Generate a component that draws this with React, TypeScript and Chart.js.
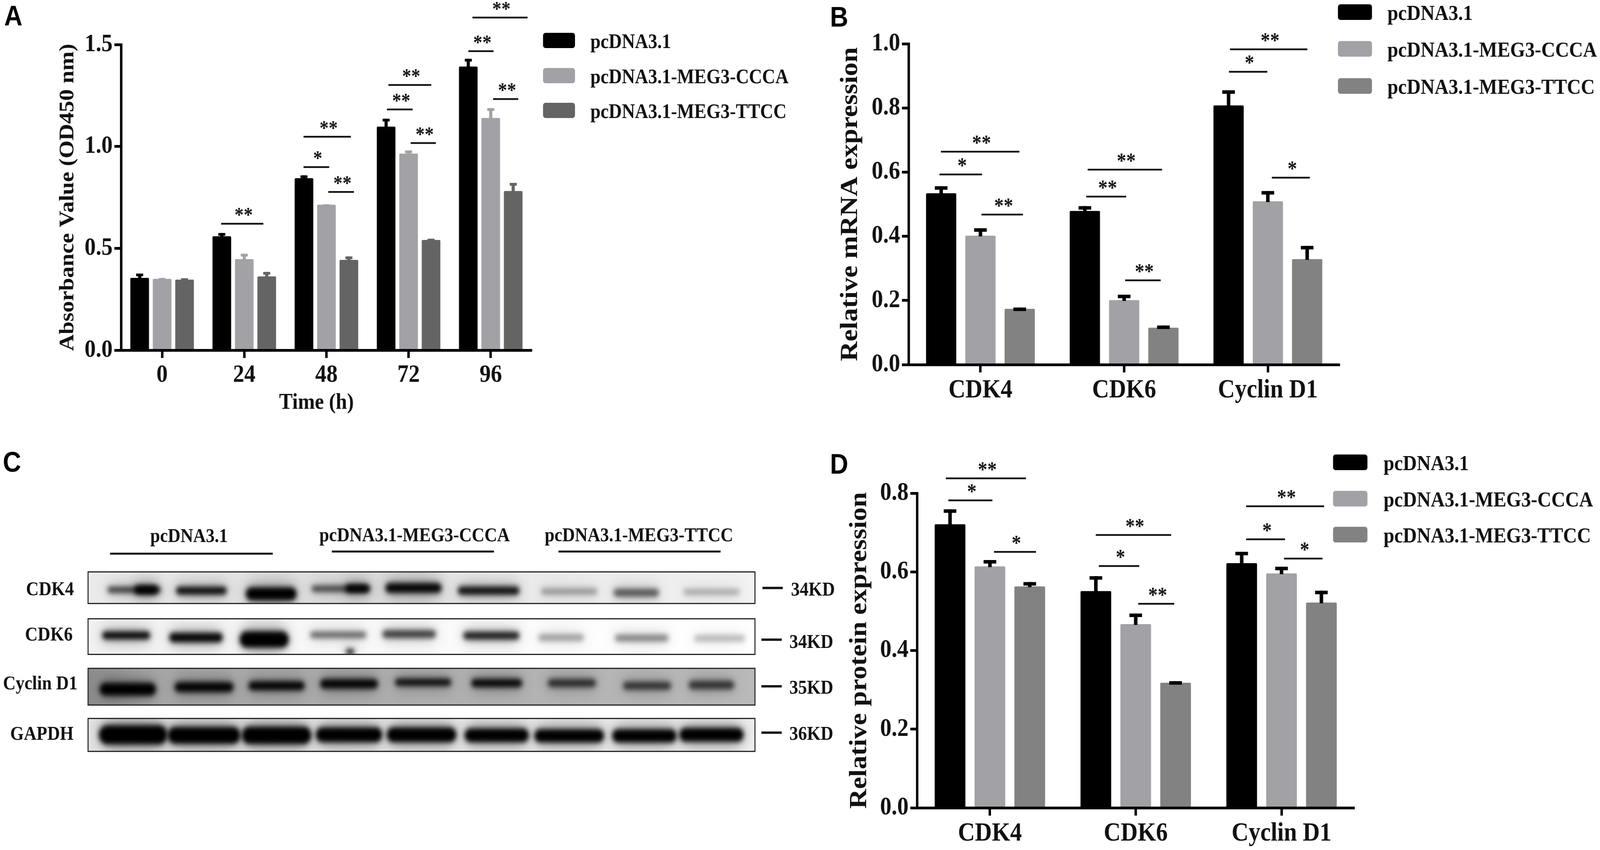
import { useEffect, useRef } from "react"
import { Chart, registerables } from "chart.js"

Chart.register(...registerables)

const SERIF = '"Liberation Serif", "Times New Roman", serif'
const SANS = '"Liberation Sans", Arial, sans-serif'

// the layout is measured on the reference; the page is fitted to the real window
const PAGE_W = 4561
const PAGE_H = 2175

const seriesNames = ["pcDNA3.1", "pcDNA3.1-MEG3-CCCA", "pcDNA3.1-MEG3-TTCC"]

// Panel A
const timeLabels = ["0", "24", "48", "72", "96"]
const absorbanceControl = [0.355, 0.559, 0.844, 1.097, 1.392]
const absorbanceCCCA = [0.35, 0.447, 0.714, 0.965, 1.14]
const absorbanceTTCC = [0.346, 0.362, 0.443, 0.541, 0.781]
const absorbanceControlTop = [0.376, 0.575, 0.858, 1.136, 1.43]
const absorbanceCCCATop = [0.354, 0.473, 0.716, 0.98, 1.188]
const absorbanceTTCCTop = [0.353, 0.384, 0.46, 0.547, 0.821]
// x1, x2 in category units, y in axis units, stars
const absorbanceBrackets: [number, number, number, string][] = [
  [0.718, 1.232, 0.621, "**"],
  [1.721, 2.298, 1.048, "**"],
  [1.721, 2.034, 0.899, "*"],
  [2.022, 2.335, 0.777, "**"],
  [2.755, 3.276, 1.302, "**"],
  [2.737, 3.05, 1.182, "**"],
  [3.025, 3.332, 1.017, "**"],
  [3.777, 4.448, 1.633, "**"],
  [3.727, 4.034, 1.468, "**"],
  [4.028, 4.335, 1.233, "**"],
]

// Panel B
const geneLabels = ["CDK4", "CDK6", "Cyclin D1"]
const mrnaControl = [0.534, 0.479, 0.808]
const mrnaCCCA = [0.402, 0.201, 0.509]
const mrnaTTCC = [0.174, 0.115, 0.329]
const mrnaControlTop = [0.556, 0.494, 0.855]
const mrnaCCCATop = [0.425, 0.218, 0.541]
const mrnaTTCCTop = [0.178, 0.122, 0.37]
const mrnaBrackets: [number, number, number, string][] = [
  [-0.275, 0.271, 0.664, "**"],
  [-0.285, 0.011, 0.593, "*"],
  [0.007, 0.296, 0.468, "**"],
  [0.746, 1.264, 0.608, "**"],
  [0.736, 1.014, 0.524, "**"],
  [1.007, 1.254, 0.263, "**"],
  [1.736, 2.275, 0.983, "**"],
  [1.729, 1.996, 0.913, "*"],
  [2.028, 2.292, 0.583, "*"],
]

// Panel D
const proteinControl = [0.721, 0.551, 0.622]
const proteinCCCA = [0.614, 0.467, 0.596]
const proteinTTCC = [0.563, 0.318, 0.522]
const proteinControlTop = [0.759, 0.589, 0.651]
const proteinCCCATop = [0.63, 0.494, 0.613]
const proteinTTCCTop = [0.574, 0.322, 0.552]
const proteinBrackets: [number, number, number, string][] = [
  [-0.302, 0.247, 0.838, "**"],
  [-0.285, 0.017, 0.782, "*"],
  [0.028, 0.316, 0.651, "*"],
  [0.726, 1.243, 0.694, "**"],
  [0.747, 1.024, 0.615, "*"],
  [1.017, 1.264, 0.519, "**"],
  [1.757, 2.292, 0.767, "**"],
  [1.757, 2.024, 0.683, "*"],
  [2.017, 2.281, 0.634, "*"],
]

// Panel C, the blot. Coordinates are in a 1568x1568 grid over the panel box.
const blotRowNames = ["CDK4", "CDK6", "Cyclin D1", "GAPDH"]
const blotSizes = ["34KD", "34KD", "35KD", "36KD"]
const blotRows = [
  [530, 648],
  [705, 838],
  [890, 1027],
  [1077, 1200],
]
// x, width, y, height, darkness
const blotBands = [
  [
    [250, 100, 597, 24, 0.7], [272, 44, 597, 34, 1], [375, 95, 600, 30, 0.92], [505, 95, 612, 50, 1],
    [635, 110, 593, 24, 0.65], [665, 44, 592, 30, 1], [770, 105, 590, 38, 0.97], [910, 115, 600, 32, 0.9],
    [1060, 105, 603, 24, 0.32], [1185, 85, 608, 30, 0.58], [1325, 105, 605, 22, 0.27],
  ],
  [
    [235, 90, 767, 30, 0.95], [365, 100, 775, 36, 0.97], [492, 92, 782, 62, 1], [630, 105, 765, 24, 0.55],
    [762, 100, 762, 30, 0.7], [915, 105, 768, 30, 0.85], [1045, 85, 775, 26, 0.33], [1195, 100, 777, 26, 0.43],
    [1340, 95, 778, 24, 0.25], [652, 16, 828, 20, 0.95],
  ],
  [
    [238, 105, 968, 48, 1], [380, 110, 960, 38, 0.97], [515, 105, 955, 34, 0.97], [650, 108, 948, 36, 0.97],
    [788, 105, 942, 28, 0.9], [925, 95, 945, 32, 0.94], [1065, 90, 945, 30, 0.72], [1205, 90, 955, 30, 0.68],
    [1325, 85, 952, 32, 0.68],
  ],
  [
    [248, 128, 1138, 72, 1], [380, 136, 1140, 64, 1], [515, 130, 1140, 66, 1], [650, 124, 1138, 56, 1],
    [785, 130, 1138, 56, 1], [925, 120, 1140, 52, 1], [1060, 130, 1142, 50, 1], [1200, 120, 1142, 50, 1],
    [1325, 120, 1138, 52, 1],
  ],
]

interface Box { x: number; y: number; w: number; h: number }

interface BarPanelProps {
  box: Box
  area: { left: number; right: number; top: number; bottom: number }
  labels: string[]
  values: number[][]
  tops: number[][]
  brackets: [number, number, number, string][]
  colors: string[]
  capColors: string[]
  capWidth: number
  stemWidth: number
  capHeight: number
  yMax: number
  yStep: number
  yTitle: string
  yTitleSize: number
  yTitleX: number
  yTickSize: number
  xTickSize: number
  xTickPad: number
  barPercentage: number
  legend: { x: number; y: number[]; w: number; h: number; textX: number; size: number }
  starSize: number
  note?: { text: string; x: number; y: number; size: number }
}

function BarPanel(props: BarPanelProps) {
  const ref = useRef<HTMLCanvasElement>(null)
  const { box, area } = props

  useEffect(() => {
    if (!ref.current) return
    const left = area.left - box.x
    const right = area.right - box.x
    const top = area.top - box.y
    const bottom = area.bottom - box.y

    const marks = {
      id: "marks",
      afterDatasetsDraw(chart: Chart) {
        const ctx = chart.ctx
        const xs = chart.scales.x
        const ys = chart.scales.y
        ctx.save()
        // error bars, one side only
        chart.data.datasets.forEach((ds: any, i: number) => {
          const meta = chart.getDatasetMeta(i)
          ctx.fillStyle = props.capColors[i]
          meta.data.forEach((bar: any, j: number) => {
            const yTop = ys.getPixelForValue(props.tops[i][j])
            const yBar = ys.getPixelForValue(ds.data[j])
            ctx.fillRect(bar.x - props.stemWidth / 2, yTop, props.stemWidth, yBar - yTop + 2)
            ctx.fillRect(bar.x - props.capWidth / 2, yTop, props.capWidth, props.capHeight)
          })
        })
        // significance brackets
        ctx.fillStyle = "#111"
        ctx.textAlign = "center"
        ctx.textBaseline = "alphabetic"
        ctx.font = `bold ${props.starSize}px ${SERIF}`
        props.brackets.forEach(([x1, x2, v, stars]) => {
          const a = xs.getPixelForValue(x1)
          const b = xs.getPixelForValue(x2)
          const y = ys.getPixelForValue(v)
          ctx.fillRect(a, y - 2, b - a, 4.5)
          ctx.fillText(stars, (a + b) / 2 + 4, y - 5)
        })
        // legend
        const lg = props.legend
        ctx.textAlign = "left"
        ctx.textBaseline = "middle"
        ctx.font = `bold ${lg.size}px ${SERIF}`
        chart.data.datasets.forEach((ds: any, i: number) => {
          ctx.fillStyle = ds.backgroundColor
          ctx.beginPath()
          ctx.roundRect(lg.x - box.x, lg.y[i] - box.y, lg.w, lg.h, 7)
          ctx.fill()
          ctx.fillStyle = "#111"
          ctx.fillText(ds.label, lg.textX - box.x, lg.y[i] - box.y + lg.h / 2 + 6)
        })
        if (props.note) {
          ctx.textAlign = "center"
          ctx.font = `bold ${props.note.size}px ${SERIF}`
          ctx.fillText(props.note.text, props.note.x - box.x, props.note.y - box.y)
        }
        ctx.restore()
      },
    }

    const chart = new Chart(ref.current, {
      type: "bar",
      data: {
        labels: props.labels,
        datasets: props.values.map((data, i) => ({
          label: seriesNames[i],
          data,
          backgroundColor: props.colors[i],
          borderRadius: 3,
          borderSkipped: "bottom" as const,
          categoryPercentage: 0.82,
          barPercentage: props.barPercentage,
        })),
      },
      options: {
        responsive: false,
        animation: false,
        devicePixelRatio: 1,
        layout: { padding: { left: 0, top, right: box.w - right, bottom: 0 } },
        plugins: { legend: { display: false }, tooltip: { enabled: false } },
        scales: {
          x: {
            grid: { offset: false, drawOnChartArea: false, tickLength: 20, tickWidth: 7, tickColor: "#000" },
            border: { color: "#000", width: 7, z: 1 },
            ticks: {
              color: "#111",
              padding: props.xTickPad,
              autoSkip: false,
              maxRotation: 0,
              font: { family: SERIF, weight: "bold", size: props.xTickSize },
            },
            afterFit: (s: any) => { s.height = box.h - bottom },
          },
          y: {
            min: 0,
            max: props.yMax,
            grid: { drawOnChartArea: false, tickLength: 19, tickWidth: 7, tickColor: "#000" },
            border: { color: "#000", width: 7, z: 1 },
            ticks: {
              color: "#111",
              padding: 5,
              stepSize: props.yStep,
              callback: (v: any) => Number(v).toFixed(1),
              font: { family: SERIF, weight: "bold", size: props.yTickSize },
            },
            title: {
              display: true,
              text: props.yTitle,
              color: "#111",
              font: { family: SERIF, weight: "bold", size: props.yTitleSize },
              padding: { top: props.yTitleX - box.x - (props.yTitleSize * 1.2) / 2, bottom: 0 },
            },
            afterFit: (s: any) => { s.width = left },
          },
        },
      },
      plugins: [marks],
    } as any)

    return () => chart.destroy()
  }, [])

  return (
    <canvas
      ref={ref}
      width={box.w}
      height={box.h}
      style={{ position: "absolute", left: box.x, top: box.y, width: box.w, height: box.h, display: "block" }}
    />
  )
}

const BLOT_BOX: Box = { x: 0, y: 1100, w: 2400, h: 1075 }
const sx = (v: number) => v * (2400 / 1568)
const sy = (v: number) => v * (1075 / 1568)

function BlotPanel() {
  const ref = useRef<HTMLCanvasElement>(null)

  useEffect(() => {
    const ctx = ref.current?.getContext("2d")
    if (!ctx) return
    const x0 = sx(164)
    const w = sx(1406) - x0

    blotRows.forEach(([a, b], r) => {
      const y = sy(a)
      const h = sy(b) - y
      ctx.save()
      ctx.beginPath()
      ctx.rect(x0, y, w, h)
      ctx.clip()
      const bg = ctx.createLinearGradient(x0, 0, x0 + w, 0)
      if (r === 0) {
        bg.addColorStop(0, "#ebebeb")
        bg.addColorStop(0.5, "#dadada")
        bg.addColorStop(0.56, "#e8e8e8")
        bg.addColorStop(1, "#f2f2f2")
      } else if (r === 1) {
        bg.addColorStop(0, "#f1f1f1")
        bg.addColorStop(0.35, "#f9f9f9")
        bg.addColorStop(1, "#ffffff")
      } else if (r === 2) {
        bg.addColorStop(0, "#8c8c8c")
        bg.addColorStop(0.08, "#a6a6a6")
        bg.addColorStop(1, "#bababa")
      } else {
        bg.addColorStop(0, "#e4e4e4")
        bg.addColorStop(1, "#eeeeee")
      }
      ctx.fillStyle = bg
      ctx.fillRect(x0, y, w, h)
      // a wide soft smear under each band, then the band itself
      blotBands[r].forEach(([bx, bw, by, bh, dark]) => {
        ctx.filter = "blur(18px)"
        ctx.fillStyle = `rgba(0,0,0,${dark * 0.3})`
        ctx.beginPath()
        ctx.roundRect(sx(bx - bw / 2), sy(by - bh * 0.9), sx(bw), sy(bh * 1.8), sy(bh) * 0.9)
        ctx.fill()
        ctx.filter = "blur(7px)"
        ctx.fillStyle = `rgba(0,0,0,${dark})`
        ctx.beginPath()
        ctx.roundRect(sx(bx - bw / 2), sy(by - bh / 2), sx(bw), sy(bh), sy(bh) / 2)
        ctx.fill()
      })
      ctx.restore()
      ctx.strokeStyle = "#222"
      ctx.lineWidth = 3
      ctx.strokeRect(x0, y, w, h)
    })

    ctx.fillStyle = "#111"
    ctx.textAlign = "center"
    ctx.textBaseline = "middle"
    ctx.font = `bold 50px ${SERIF}`
    const rowNameX = [93, 91, 75, 78]
    const rowNameY = [598, 768, 950, 1138]
    blotRowNames.forEach((t, i) => ctx.fillText(t, sx(rowNameX[i]), sy(rowNameY[i])))

    const dashX = [1420, 1418, 1418, 1418]
    const dashY = [590, 783, 957, 1130]
    const sizeX = [1514, 1511, 1511, 1511]
    const sizeY = [600, 795, 965, 1138]
    blotSizes.forEach((t, i) => {
      ctx.fillRect(sx(dashX[i]), sy(dashY[i]) - 3, 58, 6)
      ctx.fillText(t, sx(sizeX[i]), sy(sizeY[i]))
    })

    const groupX = [352, 772, 1190]
    const groupY = [400, 397, 397]
    const lineFrom = [205, 618, 1040]
    const lineTo = [508, 920, 1342]
    const lineY = [462, 454, 454]
    seriesNames.forEach((t, i) => {
      ctx.fillText(t, sx(groupX[i]), sy(groupY[i]))
      ctx.fillRect(sx(lineFrom[i]), sy(lineY[i]) - 2.5, sx(lineTo[i] - lineFrom[i]), 5)
    })
  }, [])

  return (
    <canvas
      ref={ref}
      width={BLOT_BOX.w}
      height={BLOT_BOX.h}
      style={{ position: "absolute", left: BLOT_BOX.x, top: BLOT_BOX.y, display: "block" }}
    />
  )
}

const panelLetters: [string, number, number][] = [
  ["A", 38, 40],
  ["B", 2392, 43],
  ["C", 34, 1182],
  ["D", 2392, 1187],
]

export default function App() {
  const fitX = window.innerWidth / PAGE_W
  const fitY = window.innerHeight / PAGE_H
  return (
    <div style={{ position: "fixed", inset: 0, background: "#fff", overflow: "hidden" }}>
      <div
        style={{
          position: "absolute",
          left: 0,
          top: 0,
          width: PAGE_W,
          height: PAGE_H,
          transformOrigin: "0 0",
          transform: `scale(${fitX}, ${fitY})`,
        }}
      >
        <BlotPanel />
        <BarPanel
          box={{ x: 0, y: 0, w: 2300, h: 1100 }}
          area={{ left: 345, right: 1516, top: 114, bottom: 896 }}
          labels={timeLabels}
          values={[absorbanceControl, absorbanceCCCA, absorbanceTTCC]}
          tops={[absorbanceControlTop, absorbanceCCCATop, absorbanceTTCCTop]}
          brackets={absorbanceBrackets}
          colors={["#000000", "#a2a2a6", "#646464"]}
          capColors={["#000000", "#a2a2a6", "#646464"]}
          capWidth={20}
          stemWidth={9}
          capHeight={7}
          yMax={1.5}
          yStep={0.5}
          yTitle="Absorbance Value (OD450 nm)"
          yTitleSize={59}
          yTitleX={194}
          yTickSize={64}
          xTickSize={64}
          xTickPad={6}
          barPercentage={0.83}
          legend={{ x: 1548, y: [84, 174, 263], w: 91, h: 39, textX: 1683, size: 52 }}
          starSize={52}
          note={{ text: "Time (h)", x: 902, y: 1031, size: 58 }}
        />
        <BarPanel
          box={{ x: 2300, y: 0, w: 2261, h: 1100 }}
          area={{ left: 2590, right: 3819, top: 112, bottom: 933 }}
          labels={geneLabels}
          values={[mrnaControl, mrnaCCCA, mrnaTTCC]}
          tops={[mrnaControlTop, mrnaCCCATop, mrnaTTCCTop]}
          brackets={mrnaBrackets}
          colors={["#000000", "#a2a2a6", "#828282"]}
          capColors={["#000000", "#000000", "#000000"]}
          capWidth={36}
          stemWidth={10}
          capHeight={9}
          yMax={1}
          yStep={0.2}
          yTitle="Relative mRNA expression"
          yTitleSize={70}
          yTitleX={2425}
          yTickSize={65}
          xTickSize={67}
          xTickPad={6}
          barPercentage={0.77}
          legend={{ x: 3814, y: [11, 105, 200], w: 97, h: 40, textX: 3955, size: 55 }}
          starSize={54}
        />
        <BarPanel
          box={{ x: 2300, y: 1100, w: 2261, h: 1075 }}
          area={{ left: 2614, right: 3861, top: 1262, bottom: 2067 }}
          labels={geneLabels}
          values={[proteinControl, proteinCCCA, proteinTTCC]}
          tops={[proteinControlTop, proteinCCCATop, proteinTTCCTop]}
          brackets={proteinBrackets}
          colors={["#000000", "#a2a2a6", "#828282"]}
          capColors={["#000000", "#000000", "#000000"]}
          capWidth={36}
          stemWidth={10}
          capHeight={9}
          yMax={0.8}
          yStep={0.2}
          yTitle="Relative protein expression"
          yTitleSize={70}
          yTitleX={2451}
          yTickSize={65}
          xTickSize={67}
          xTickPad={6}
          barPercentage={0.77}
          legend={{ x: 3800, y: [1163, 1256, 1348], w: 98, h: 40, textX: 3944, size: 55 }}
          starSize={54}
        />
        {panelLetters.map(([t, x, y]) => (
          <div
            key={t}
            style={{
              position: "absolute",
              left: x,
              top: y,
              transform: "translate(-50%, -50%)",
              font: `bold 72px ${SANS}`,
              color: "#000",
              lineHeight: 1,
            }}
          >
            {t}
          </div>
        ))}
      </div>
    </div>
  )
}
